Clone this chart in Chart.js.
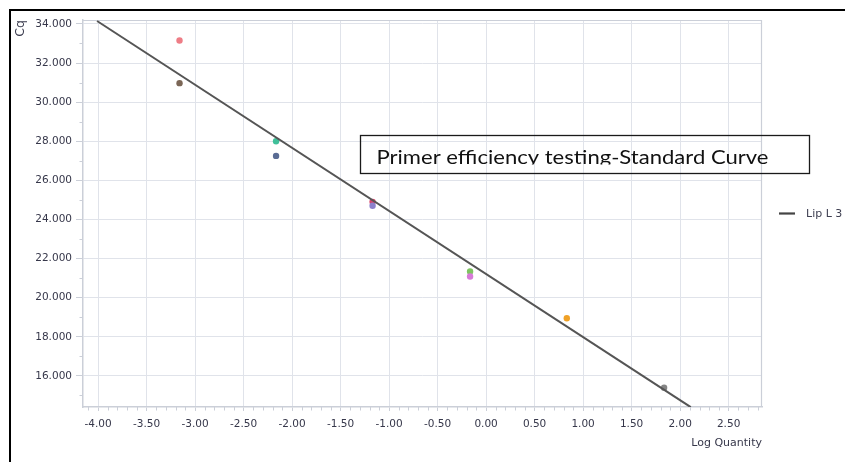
<!DOCTYPE html>
<html>
<head>
<meta charset="utf-8">
<script src="https://cdn.jsdelivr.net/npm/chart.js@4"></script>
<style>
  html, body { margin: 0; padding: 0; background: #fff; overflow: hidden; }
  #wrap { position: relative; width: 845px; height: 462px; }
  #frame { position: absolute; left: 9px; top: 9px; width: 840px; height: 460px;
           border-top: 2px solid #000; border-left: 2px solid #000; pointer-events: none; }
  canvas { position: absolute; left: 0; top: 0; }
</style>
</head>
<body>
<div id="wrap">
  <canvas id="c" width="845" height="462"></canvas>
  <div id="frame"></div>
</div>
<script>
// ---- data ----
const xTickValues = [-4.0, -3.5, -3.0, -2.5, -2.0, -1.5, -1.0, -0.5, 0.0, 0.5, 1.0, 1.5, 2.0, 2.5];
const yTickValues = [16, 18, 20, 22, 24, 26, 28, 30, 32, 34];
const sampleLogQty = [-3.16, -3.16, -2.165, -2.165, -1.17, -1.17, -0.165, -0.165, 0.832, 1.835];
const sampleCq     = [33.15, 30.97, 28.0, 27.25, 24.9, 24.7, 21.34, 21.08, 18.95, 15.4];
const sampleColors = ['#ee7d86', '#7b6656', '#40c09a', '#5a6c94', '#d8456a', '#8c80cc', '#7fc462', '#d77ad8', '#f0a126', '#858585'];
const fitLogQty = [-4.01, 2.11];
const fitCq     = [34.15, 14.40];
const legendLabel = 'Lip L 3';
const boxTitle = 'Primer efficiency testing-Standard Curve';

const tickFont = { family: 'DejaVu Sans', size: 10.5 };
const tickColor = '#36374a';
const gridColor = '#e0e3ea';
const axisColor = '#cbcfd8';

const extras = {
  id: 'extras',
  beforeDatasetsDraw(chart) {
    const { ctx, chartArea: a } = chart;
    ctx.save();
    ctx.strokeStyle = axisColor;
    ctx.lineWidth = 1.2;
    ctx.beginPath();
    ctx.moveTo(a.left, a.top + 0.5);
    ctx.lineTo(a.right - 0.5, a.top + 0.5);
    ctx.lineTo(a.right - 0.5, a.bottom);
    ctx.stroke();
    // minor ticks
    const xs = chart.scales.x, ys = chart.scales.y;
    ctx.lineWidth = 1;
    ctx.beginPath();
    for (let i = -41; i <= 28; i++) {
      const v = i / 10;
      if (Math.abs(v * 2 - Math.round(v * 2)) < 1e-6) continue;
      const px = Math.round(xs.getPixelForValue(v)) + 0.5;
      ctx.moveTo(px, a.bottom);
      ctx.lineTo(px, a.bottom + 3.5);
    }
    for (let v = 15; v <= 33; v += 2) {
      const py = Math.round(ys.getPixelForValue(v)) + 0.5;
      ctx.moveTo(a.left - 3.5, py);
      ctx.lineTo(a.left, py);
    }
    ctx.stroke();
    ctx.restore();
  },
  afterDraw(chart) {
    const { ctx } = chart;
    ctx.save();
    // title box
    ctx.strokeStyle = '#1a1a1a';
    ctx.lineWidth = 1.3;
    ctx.strokeRect(360.5, 135.5, 449, 38);
    ctx.beginPath();
    ctx.rect(362, 137, 446, 27.5);
    ctx.clip();
    ctx.font = '19.5px Lato';
    ctx.fillStyle = '#111';
    ctx.textBaseline = 'alphabetic';
    const w = ctx.measureText(boxTitle).width;
    ctx.translate(376.5, 163.5);
    ctx.scale(392 / w, 1);
    ctx.fillText(boxTitle, 0, 0);
    ctx.restore();
    // legend
    ctx.save();
    ctx.strokeStyle = '#444';
    ctx.lineWidth = 2.2;
    ctx.beginPath();
    ctx.moveTo(779, 213.5);
    ctx.lineTo(795, 213.5);
    ctx.stroke();
    ctx.font = '11px DejaVu Sans';
    ctx.fillStyle = '#3f4052';
    ctx.textBaseline = 'middle';
    ctx.fillText(legendLabel, 806, 214);
    ctx.restore();
  }
};

new Chart(document.getElementById('c'), {
  data: {
    datasets: [
      {
        type: 'line',
        label: legendLabel,
        data: fitLogQty.map((x, i) => ({ x, y: fitCq[i] })),
        borderColor: '#555',
        borderWidth: 2,
        pointRadius: 0,
        fill: false,
        order: 0
      },
      {
        type: 'scatter',
        label: 'samples',
        data: sampleLogQty.map((x, i) => ({ x, y: sampleCq[i] })),
        pointBackgroundColor: sampleColors,
        pointBorderWidth: 0,
        pointRadius: 3.2,
        order: 1
      }
    ]
  },
  options: {
    responsive: false,
    animation: false,
    devicePixelRatio: 1,
    layout: { padding: { left: 10, top: 20, right: 83, bottom: 10 } },
    plugins: { legend: { display: false }, tooltip: { enabled: false } },
    scales: {
      x: {
        type: 'linear',
        min: -4.155,
        max: 2.844,
        afterBuildTicks: s => { s.ticks = xTickValues.map(v => ({ value: v })); },
        afterFit: s => { s.height = 45; },
        grid: { color: gridColor, lineWidth: 1, tickLength: 4, tickColor: axisColor },
        border: { color: axisColor, width: 1.5 },
        ticks: { font: tickFont, color: tickColor, padding: 7, autoSkip: false, maxRotation: 0,
                 callback: v => Number(v).toFixed(2) },
        title: { display: true, text: 'Log Quantity', align: 'end', font: { family: 'DejaVu Sans', size: 11 },
                 color: tickColor, padding: { top: 0, bottom: 2.4 } }
      },
      y: {
        type: 'linear',
        min: 14.41,
        max: 34.2,
        afterBuildTicks: s => { s.ticks = yTickValues.map(v => ({ value: v })); },
        afterFit: s => { s.width = 73; },
        grid: { color: gridColor, lineWidth: 1, tickLength: 7, tickColor: axisColor },
        border: { color: axisColor, width: 1.5 },
        ticks: { font: tickFont, color: tickColor, padding: 4, autoSkip: false,
                 callback: v => Number(v).toFixed(3) },
        title: { display: true, text: 'Cq', align: 'end', font: { family: 'DejaVu Sans', size: 12.5 },
                 color: tickColor, padding: { top: 3.5, bottom: 0 } }
      }
    }
  },
  plugins: [extras]
});
</script>
</body>
</html>
